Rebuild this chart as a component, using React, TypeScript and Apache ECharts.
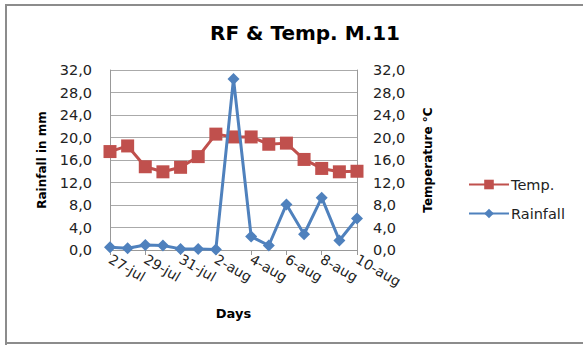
import React, { useEffect, useRef } from "react";
import * as echarts from "echarts";

const days = ["27-jul","28-jul","29-jul","30-jul","31-jul","1-aug","2-aug","3-aug","4-aug","5-aug","6-aug","7-aug","8-aug","9-aug","10-aug"];
const temp = [17.5, 18.5, 14.8, 13.9, 14.7, 16.6, 20.6, 20.1, 20.1, 18.8, 19.0, 16.1, 14.5, 13.9, 14.0];
const rainfall = [0.5, 0.3, 0.9, 0.8, 0.2, 0.2, 0.1, 30.4, 2.4, 0.8, 8.1, 2.8, 9.3, 1.7, 5.6];

const FONT = "'DejaVu Sans', sans-serif";
const fmt = (v: number) => v.toFixed(1).replace(".", ",");

export default function App() {
  const ref = useRef<HTMLDivElement>(null);
  useEffect(() => {
    const chart = echarts.init(ref.current!, null, { renderer: "svg" });
    const yCommon = {
      type: "value" as const,
      min: 0,
      max: 32,
      interval: 4,
      nameLocation: "middle" as const,
      nameRotate: 90,
      nameTextStyle: { fontFamily: FONT, fontSize: 12, fontWeight: "bold" as const, color: "#000" },
      axisLine: { show: true, lineStyle: { color: "#999", width: 1 } },
      axisTick: { show: false },
      axisLabel: { fontFamily: FONT, fontSize: 14.5, color: "#222", formatter: fmt },
    };
    chart.setOption({
      animation: false,
      backgroundColor: "#fff",
      textStyle: { fontFamily: FONT },
      title: {
        text: "RF & Temp. M.11",
        left: 300,
        textAlign: "center",
        top: 18,
        textStyle: { fontFamily: FONT, fontSize: 20, fontWeight: "bold", color: "#000" },
      },
      grid: { left: 110, right: 226, top: 70, bottom: 95 },
      legend: {
        orient: "vertical",
        left: 463,
        top: 172,
        itemWidth: 40,
        itemHeight: 12,
        itemGap: 14,
        textStyle: { fontFamily: FONT, fontSize: 14.5, color: "#222", padding: [0, 0, 0, -3] },
        data: ["Temp.", "Rainfall"],
      },
      xAxis: {
        type: "category",
        data: days,
        boundaryGap: false,
        name: "Days",
        nameLocation: "middle",
        nameGap: 57,
        nameTextStyle: { fontFamily: FONT, fontSize: 13, fontWeight: "bold", color: "#000" },
        axisLine: { lineStyle: { color: "#999", width: 1 } },
        axisTick: { show: true, interval: 1, length: 5, lineStyle: { color: "#999" } },
        axisLabel: { interval: 1, rotate: -30, fontFamily: FONT, fontSize: 14, color: "#222", margin: 8 },
        splitLine: { show: false },
      },
      yAxis: [
        {
          ...yCommon,
          position: "left",
          name: "Rainfall in mm",
          nameGap: 62,
          axisLabel: { ...yCommon.axisLabel, margin: 18 },
          splitLine: { show: true, lineStyle: { color: "#aaa", width: 1 } },
        },
        {
          ...yCommon,
          position: "right",
          name: "Temperature °C",
          nameGap: 65,
          axisLabel: { ...yCommon.axisLabel, margin: 16 },
          splitLine: { show: false },
        },
      ],
      series: [
        {
          name: "Temp.",
          type: "line",
          yAxisIndex: 1,
          data: temp,
          symbol: "rect",
          symbolSize: 13,
          showAllSymbol: true,
          itemStyle: { color: "#C0504D" },
          lineStyle: { color: "#C0504D", width: 3 },
          z: 2,
        },
        {
          name: "Rainfall",
          type: "line",
          yAxisIndex: 0,
          data: rainfall,
          symbol: "diamond",
          symbolSize: 12,
          showAllSymbol: true,
          itemStyle: { color: "#4F81BD" },
          lineStyle: { color: "#4F81BD", width: 3 },
          z: 3,
        },
      ],
      graphic: [
        {
          type: "polyline",
          shape: { points: [[6, 345], [6, 5], [583, 5]] },
          style: { stroke: "#8c8c8c", lineWidth: 2, fill: "none" },
        },
        {
          type: "line",
          shape: { x1: 6, y1: 343, x2: 583, y2: 343 },
          style: { stroke: "#8c8c8c", lineWidth: 2 },
        },
      ],
    });
    return () => chart.dispose();
  }, []);
  return <div ref={ref} style={{ width: 583, height: 345, position: "absolute", left: 0, top: 0 }} />;
}
